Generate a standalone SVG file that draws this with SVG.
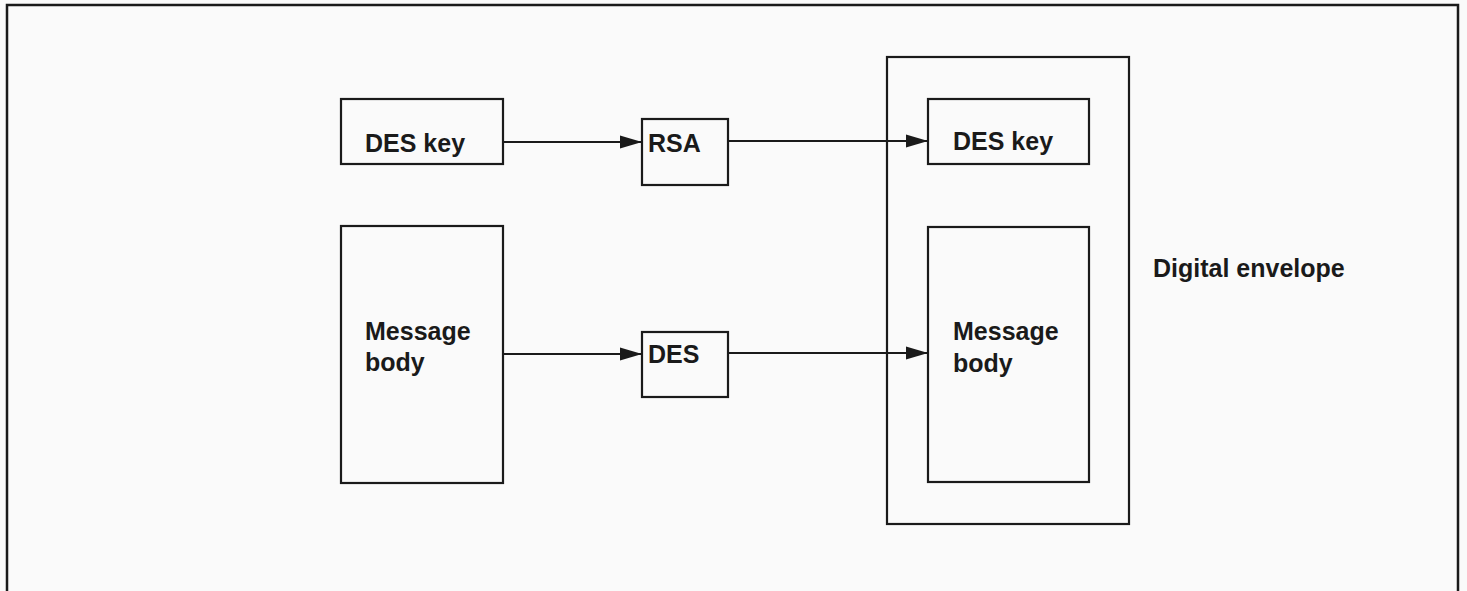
<svg xmlns="http://www.w3.org/2000/svg" width="1467" height="591" viewBox="0 0 1467 591">
<style>
.box{fill:none;stroke:#1a1a1a;stroke-width:2.2}
.lbl{font-family:"Liberation Sans",Arial,sans-serif;font-weight:bold;font-size:25px;fill:#1a1a1a}
.conn{stroke:#1a1a1a;stroke-width:2;fill:none}
</style>
<defs>
<marker id="arr" markerUnits="userSpaceOnUse" markerWidth="24" markerHeight="16" refX="22" refY="8" orient="auto">
<path d="M0,1.5 L22,8 L0,14.5 Z" fill="#1a1a1a"/>
</marker>
</defs>
<rect x="0" y="0" width="1467" height="591" fill="#fafafa"/>
<path d="M7,596 L7,5 L1458,5 L1458,596" fill="none" stroke="#1a1a1a" stroke-width="2.5"/>
<g id="deskey1"><rect class="box" x="341" y="99" width="162" height="65"/><text class="lbl" x="365" y="152">DES key</text></g>
<g id="rsa"><rect class="box" x="642" y="119" width="86" height="66"/><text class="lbl" x="648" y="152">RSA</text></g>
<g id="msg1"><rect class="box" x="341" y="226" width="162" height="257"/><text class="lbl" x="365" y="340">Message</text><text class="lbl" x="365" y="371">body</text></g>
<g id="des"><rect class="box" x="642" y="332" width="86" height="65"/><text class="lbl" x="648" y="363">DES</text></g>
<g id="envelope"><rect class="box" x="887" y="57" width="242" height="467"/><text class="lbl" x="1153" y="277">Digital envelope</text></g>
<g id="deskey2"><rect class="box" x="928" y="99" width="161" height="65"/><text class="lbl" x="953" y="150">DES key</text></g>
<g id="msg2"><rect class="box" x="928" y="227" width="161" height="255"/><text class="lbl" x="953" y="340">Message</text><text class="lbl" x="953" y="372">body</text></g>
<g id="connectors">
<line class="conn" x1="503" y1="142" x2="642" y2="142" marker-end="url(#arr)"/>
<line class="conn" x1="728" y1="141" x2="928" y2="141" marker-end="url(#arr)"/>
<line class="conn" x1="503" y1="354" x2="642" y2="354" marker-end="url(#arr)"/>
<line class="conn" x1="728" y1="353" x2="928" y2="353" marker-end="url(#arr)"/>
</g>
</svg>
